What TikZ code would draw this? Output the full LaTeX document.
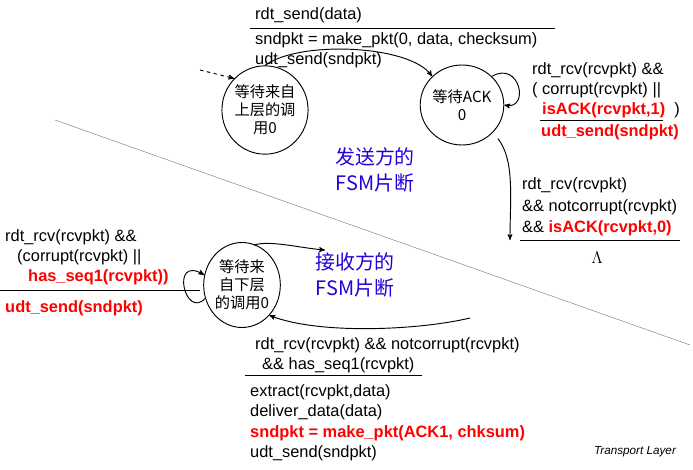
\documentclass[tikz,border=0pt]{standalone}
\usepackage{fontspec}
\setmainfont{Liberation Sans}
\newfontfamily\cjk{Noto Sans CJK SC}
\usetikzlibrary{shapes.geometric, arrows}

\begin{document}
\begin{tikzpicture}[x=0.03cm, y=-0.03cm, font=\fontsize{14}{16}\selectfont,
    state/.style={draw, thick, ellipse, align=center, inner sep=0pt, font=\cjk\fontsize{13}{15.5}\selectfont},
    lbl/.style={anchor=west, inner sep=0pt},
    act/.style={lbl, text=red, font=\bfseries\fontsize{14}{16}\selectfont},
    fsm/.style={align=center, text=blue!70!violet, font=\cjk\fontsize{17}{22}\selectfont},
    trans/.style={->, >=stealth', thick}]
    \useasboundingbox (0,0) rectangle (693,469);

    % diagonal divider
    \draw[gray] (55,120) -- (690,345);

    % sender states
    \node[state, minimum width=2.4cm, minimum height=2.65cm] (wait0) at (265,110) {等待来自\\上层的调\\用0};
    \node[state, minimum width=2.25cm, minimum height=2.4cm] (ack0) at (462,105) {等待ACK\\0};
    \coordinate (start) at (200,70);
    \draw[trans, dashed] (start) -- (wait0.north west);
    \draw[trans] (wait0.north) .. controls (300,40) and (410,45) .. (ack0.north west);
    \draw[trans] (ack0.north east) .. controls (520,60) and (530,110) .. (ack0.east);
    \coordinate (ackend) at (510,240);
    \draw[trans] (ack0.south east) ++(6,5) coordinate (ackout) .. controls (515,160) and (510,200) .. (ackend);

    % sender labels
    \node[lbl] (snd1) at (255,15) {rdt\_send(data)};
    \draw[thick] (250,28) -- (555,28);
    \node[lbl] (snd2) at (255,40) {sndpkt = make\_pkt(0, data, checksum)};
    \node[lbl] (snd3) at (255,60) {udt\_send(sndpkt)};
    \node[lbl] (rc1) at (532,70) {rdt\_rcv(rcvpkt) \&\&};
    \node[lbl] (rc2) at (532,90) {( corrupt(rcvpkt) ||};
    \node[act] (rc3) at (542,110) {isACK(rcvpkt,1)\textcolor{black}{\mdseries\ \ )}};
    \draw[thick] (540,120) -- (663,120);
    \node[act] (rc4) at (541,132) {udt\_send(sndpkt)};
    \node[lbl] (ok1) at (522,185) {rdt\_rcv(rcvpkt)};
    \node[lbl] (ok2) at (522,207) {\&\& notcorrupt(rcvpkt)};
    \node[lbl] (ok3) at (522,228) {\&\& \textcolor{red}{\bfseries isACK(rcvpkt,0)}};
    \draw[thick] (520,240) -- (680,240);
    \node (lambda) at (597,258) {$\Lambda$};
    \node[fsm] (sndname) at (375,170) {发送方的\\FSM片断};

    % receiver state
    \node[state, minimum width=2.3cm, minimum height=2.55cm] (wait1) at (242,285) {等待来\\自下层\\的调用0};
    \draw[trans] (wait1.200) .. controls (185,320) and (170,255) .. (wait1.165);
    \coordinate (topend) at (325,250);
    \draw[trans] (wait1.north) ++(12,3) .. controls (270,240) and (300,248) .. (topend);
    \coordinate (botstart) at (470,318);
    \draw[trans] (botstart) .. controls (420,330) and (320,335) .. (wait1.south east);

    % receiver labels
    \node[lbl] (rl1) at (5,237) {rdt\_rcv(rcvpkt) \&\&};
    \node[lbl] (rl2) at (17,257) {(corrupt(rcvpkt) ||};
    \node[act] (rl3) at (28,277) {has\_seq1(rcvpkt))};
    \draw[thick] (0,290) -- (200,290);
    \node[act] (rl4) at (5,308) {udt\_send(sndpkt)};
    \node[lbl] (rb1) at (255,345) {rdt\_rcv(rcvpkt) \&\& notcorrupt(rcvpkt)};
    \node[lbl] (rb2) at (262,365) {\&\& has\_seq1(rcvpkt)};
    \draw[thick] (245,375) -- (422,375);
    \node[lbl] (rb3) at (250,392) {extract(rcvpkt,data)};
    \node[lbl] (rb4) at (250,412) {deliver\_data(data)};
    \node[act] (rb5) at (250,433) {sndpkt = make\_pkt(ACK1, chksum)};
    \node[lbl] (rb6) at (250,453) {udt\_send(sndpkt)};
    \node[fsm] (rcvname) at (355,275) {接收方的\\FSM片断};

    \node[font=\itshape\fontsize{10}{12}\selectfont] (footer) at (635,452) {Transport Layer};
\end{tikzpicture}
\end{document}
